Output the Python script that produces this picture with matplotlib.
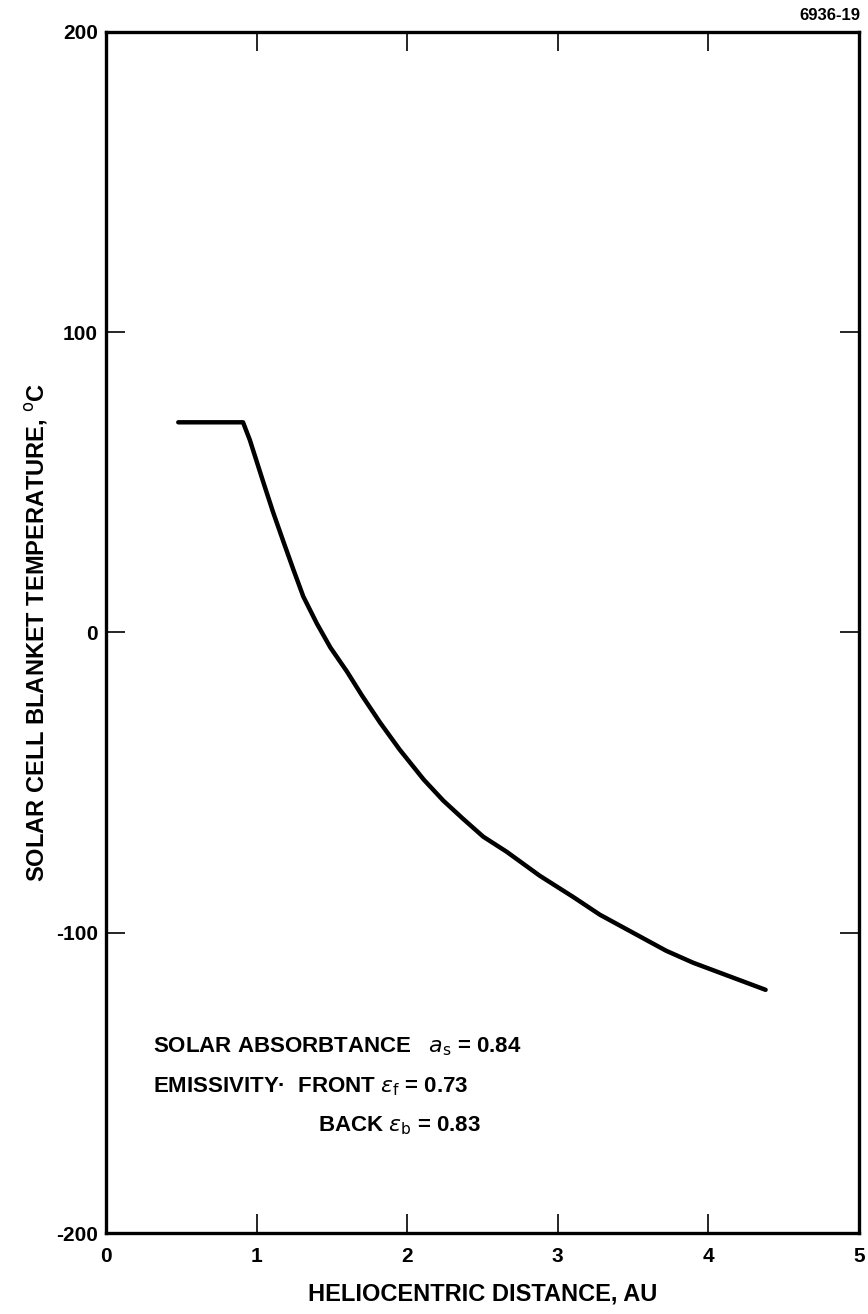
import matplotlib.pyplot as plt

# temperatura do cobertor das celulas solares vs distancia heliocentrica
dist_au = [0.48, 0.91, 0.956, 1.045, 1.11, 1.18, 1.244, 1.31, 1.40, 1.49, 1.60, 1.70,
           1.82, 1.95, 2.11, 2.24, 2.37, 2.505, 2.66, 2.88, 3.10, 3.28, 3.50, 3.72,
           3.90, 4.06, 4.38]
temp_c = [70, 70, 64, 50, 40, 30, 21, 12, 3, -5, -13, -21,
          -30, -39, -49, -56, -62, -68, -73, -81, -88, -94, -100, -106,
          -110, -113, -119]

x_ticks = [0, 1, 2, 3, 4, 5]
y_ticks = [-200, -100, 0, 100, 200]

plt.rcParams['font.family'] = ['Liberation Sans', 'DejaVu Sans']

fig = plt.figure(figsize=(8.68, 13.14), dpi=100)
ax = fig.add_axes([0.1221, 0.0616, 0.8675, 0.9141])

ax.plot(dist_au, temp_c, color='black', linewidth=3.2,
        solid_capstyle='round', solid_joinstyle='round')

ax.set_xlim(0, 5)
ax.set_ylim(-200, 200)
ax.set_xticks(x_ticks)
ax.set_yticks(y_ticks)
ax.set_xticklabels([str(t) for t in x_ticks], fontsize=15, fontweight='bold')
ax.set_yticklabels([str(t) for t in y_ticks], fontsize=15, fontweight='bold')
ax.tick_params(direction='in', length=14, width=1.2, top=True, right=True)
ax.tick_params(axis='x', pad=10)
ax.tick_params(axis='y', pad=6)
# sem marcas nos extremos (so os rotulos)
for t in ax.xaxis.get_major_ticks()[::5] + ax.yaxis.get_major_ticks()[::4]:
    t.tick1line.set_visible(False)
    t.tick2line.set_visible(False)

for s in ax.spines.values():
    s.set_linewidth(2.4)

ax.set_xlabel('HELIOCENTRIC DISTANCE, AU', fontsize=17, fontweight='bold', labelpad=12)
ax.set_ylabel('SOLAR CELL BLANKET TEMPERATURE, $^{\\rm o}$C', fontsize=17,
              fontweight='bold', labelpad=4)

fig.text(860 / 868, 1 - 15 / 1314, '6936-19', ha='right', va='center',
         fontsize=12, fontweight='bold')

ax.text(0.31, -138, 'SOLAR ABSORBTANCE   $a_{\\rm s}$ = 0.84', fontsize=16,
        fontweight='bold', va='center')
ax.text(0.31, -151.3, 'EMISSIVITY·  FRONT $\\epsilon_{\\rm f}$ = 0.73', fontsize=16,
        fontweight='bold', va='center')
ax.text(1.41, -164.3, 'BACK $\\epsilon_{\\rm b}$ = 0.83', fontsize=16,
        fontweight='bold', va='center')

fig.savefig('out.png', dpi=100)
